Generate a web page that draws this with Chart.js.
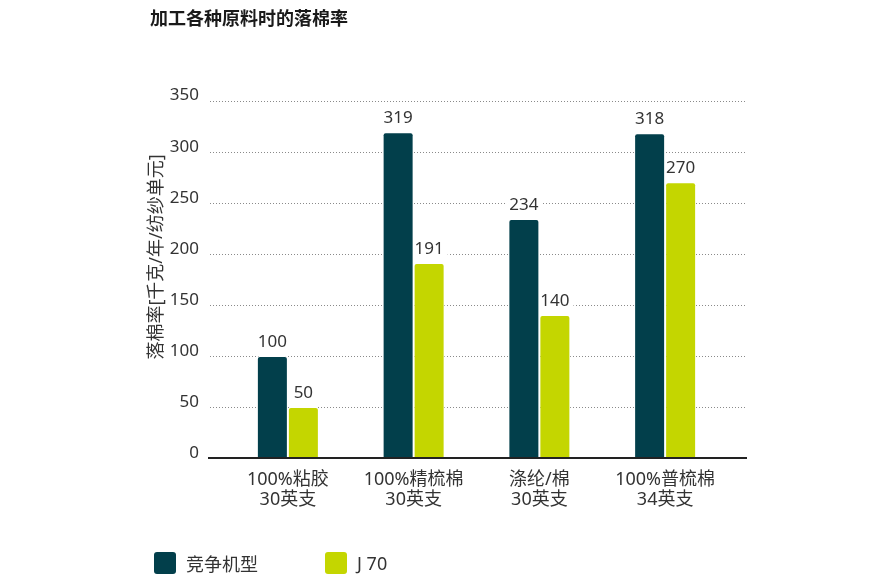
<!DOCTYPE html>
<html>
<head>
<meta charset="utf-8">
<script src="https://cdn.jsdelivr.net/npm/chart.js@4"></script>
<style>
  body { margin: 0; background: #fff; }
  #wrap { position: relative; width: 890px; height: 586px; }
  #legend { position: absolute; left: 154px; top: 552px; display: flex; font: 18px "Noto Sans", "Noto Sans CJK SC", sans-serif; color: #333; }
  #legend .item { display: flex; align-items: center; height: 22px; }
  #legend .box { width: 22px; height: 22px; border-radius: 3px; margin-right: 10px; }
</style>
</head>
<body>
<div id="wrap">
  <canvas id="wasteChart"></canvas>
  <div id="legend"></div>
</div>
<script>
// --- data ---
const categories = [['100%粘胶', '30英支'], ['100%精梳棉', '30英支'], ['涤纶/棉', '30英支'], ['100%普梳棉', '34英支']];
const competitor = [100, 319, 234, 318];
const j70 = [50, 191, 140, 270];
const seriesNames = ['竞争机型', 'J 70'];
const yTicks = [0, 50, 100, 150, 200, 250, 300, 350];

const dark = '#023f4b';
const lime = '#c4d600';
const FONT = '"Noto Sans", "Noto Sans CJK SC", sans-serif';

// dotted grid lines a bit wider than the plot, plus the solid base line
const gridPlugin = {
    id: 'dottedGrid',
    beforeDatasetsDraw(chart) {
        const { ctx, chartArea, scales } = chart;
        ctx.save();
        ctx.strokeStyle = '#8a8a8a';
        ctx.lineWidth = 1;
        ctx.setLineDash([1, 2]);
        yTicks.forEach(v => {
            if (v === 0) return;
            const y = Math.round(scales.y.getPixelForValue(v)) + 0.5;
            ctx.beginPath();
            ctx.moveTo(chartArea.left - 15, y);
            ctx.lineTo(chartArea.right + 19, y);
            ctx.stroke();
        });
        // white patches behind the value labels, under the bars
        ctx.font = '17px ' + FONT;
        ctx.fillStyle = '#fff';
        chart.data.datasets.forEach((ds, i) => {
            chart.getDatasetMeta(i).data.forEach((bar, j) => {
                const w = ctx.measureText(String(ds.data[j])).width;
                ctx.fillRect(bar.x - w / 2 - 4, bar.y - 14 - 9, w + 8, 18);
            });
        });
        ctx.restore();
    },
    afterDatasetsDraw(chart) {
        const { ctx, chartArea, scales } = chart;
        ctx.save();
        const y0 = scales.y.getPixelForValue(0);
        ctx.strokeStyle = '#222';
        ctx.lineWidth = 2;
        ctx.beginPath();
        ctx.moveTo(chartArea.left - 17, y0);
        ctx.lineTo(chartArea.right + 19, y0);
        ctx.stroke();

        // value labels
        ctx.font = '17px ' + FONT;
        ctx.textAlign = 'center';
        ctx.textBaseline = 'middle';
        ctx.fillStyle = '#333';
        chart.data.datasets.forEach((ds, i) => {
            chart.getDatasetMeta(i).data.forEach((bar, j) => {
                ctx.fillText(String(ds.data[j]), bar.x, bar.y - 14);
            });
        });

        // rotated y-axis title
        ctx.translate(157, 257);
        ctx.rotate(-Math.PI / 2);
        ctx.font = '18px ' + FONT;
        ctx.fillText('落棉率[千克/年/纺纱单元]', 0, 0);
        ctx.restore();
    }
};

const chart = new Chart(document.getElementById('wasteChart'), {
    type: 'bar',
    data: {
        labels: categories,
        datasets: [
            { label: seriesNames[0], data: competitor, backgroundColor: dark },
            { label: seriesNames[1], data: j70, backgroundColor: lime }
        ]
    },
    options: {
        responsive: true,
        maintainAspectRatio: false,
        animation: false,
        datasets: {
            bar: {
                categoryPercentage: 0.493,
                barPercentage: 1,
                borderWidth: 1,
                borderColor: '#fff',
                borderRadius: 3
            }
        },
        layout: { padding: { left: 150, right: 162, top: 0, bottom: 0 } },
        plugins: {
            legend: { display: false },
            tooltip: { enabled: false },
            title: {
                display: true,
                text: '加工各种原料时的落棉率',
                align: 'start',
                color: '#1a1a1a',
                font: { family: FONT, size: 18, weight: 'bold' },
                padding: { top: 9, bottom: 70 }
            }
        },
        scales: {
            x: {
                grid: { display: false },
                border: { display: false },
                ticks: { color: '#333', font: { family: FONT, size: 18, lineHeight: 1.12 }, padding: 4, maxRotation: 0 },
                afterFit: s => { s.height = 128; }
            },
            y: {
                min: 0,
                max: 350,
                afterBuildTicks: s => { s.ticks = yTicks.map(v => ({ value: v })); },
                grid: { display: false },
                border: { display: false },
                ticks: { color: '#333', font: { family: FONT, size: 17 }, padding: 18, labelOffset: -5 },
                afterFit: s => { s.width = 75; }
            }
        }
    },
    plugins: [gridPlugin]
});

// legend built from the chart's datasets
const legendEl = document.getElementById('legend');
chart.data.datasets.forEach((ds, i) => {
    const item = document.createElement('div');
    item.className = 'item';
    item.style.width = i === 0 ? '171px' : 'auto';
    item.innerHTML = '<span class="box" style="background:' + ds.backgroundColor + '"></span><span>' + ds.label + '</span>';
    legendEl.appendChild(item);
});
</script>
</body>
</html>
